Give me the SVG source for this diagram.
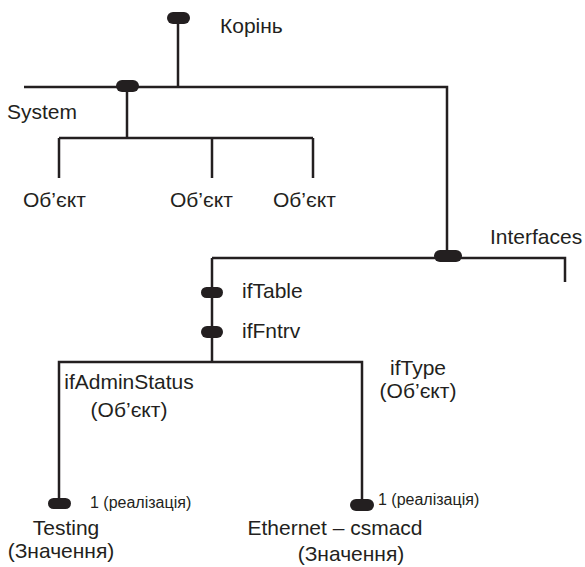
<svg xmlns="http://www.w3.org/2000/svg" width="585" height="567" viewBox="0 0 585 567">
<style>
.ln{fill:none;stroke:#231f20;stroke-width:2.5;stroke-linecap:butt;stroke-linejoin:miter}
.pill{fill:#231f20}
.t{font-family:"Liberation Sans",Arial,sans-serif;font-size:21px;fill:#231f20}
.s{font-family:"Liberation Sans",Arial,sans-serif;font-size:16px;fill:#231f20}
.m{text-anchor:middle}
</style>
<rect width="585" height="567" fill="#ffffff"/>
<g id="connectors">
<path class="ln" d="M178 24 V87"/>
<path class="ln" d="M24 87 H447 V258"/>
<path class="ln" d="M127 87 V138"/>
<path class="ln" d="M59 138 H313"/>
<path class="ln" d="M59 138 V178 M212 138 V178 M313 138 V178"/>
<path class="ln" d="M212 258 H565 V282"/>
<path class="ln" d="M212 258 V362"/>
<path class="ln" d="M59 502 V362 H362 V503"/>
</g>
<g id="root">
<rect class="pill" x="167" y="12" width="23" height="12" rx="6"/>
<text class="t" x="220" y="33">Корінь</text>
</g>
<g id="system">
<rect class="pill" x="116" y="80" width="23" height="12" rx="6"/>
<text class="t" x="7" y="119">System</text>
</g>
<g id="obj1"><text class="t" x="23" y="207">Об’єкт</text></g>
<g id="obj2"><text class="t" x="170" y="207">Об’єкт</text></g>
<g id="obj3"><text class="t" x="273" y="207">Об’єкт</text></g>
<g id="interfaces">
<rect class="pill" x="434" y="250" width="28" height="12" rx="6"/>
<text class="t" x="490" y="244">Interfaces</text>
</g>
<g id="iftable">
<rect class="pill" x="201" y="287" width="22" height="11" rx="5.5"/>
<text class="t" x="242" y="298">ifTable</text>
</g>
<g id="ifentry">
<rect class="pill" x="201" y="326" width="22" height="12" rx="6"/>
<text class="t" x="242" y="338">ifFntrv</text>
</g>
<g id="ifadminstatus">
<text class="t m" x="129" y="389">ifAdminStatus</text>
<text class="t m" x="129" y="417">(Об’єкт)</text>
</g>
<g id="iftype">
<text class="t m" x="418" y="375">ifType</text>
<text class="t m" x="418" y="398">(Об’єкт)</text>
</g>
<g id="testing">
<rect class="pill" x="48" y="498" width="23" height="11" rx="5.5"/>
<text class="s" x="90" y="508">1 (реалізація)</text>
<text class="t m" x="66" y="535">Testing</text>
<text class="t m" x="61" y="558">(Значення)</text>
</g>
<g id="ethernet">
<rect class="pill" x="350" y="499" width="24" height="12" rx="6"/>
<text class="s" x="378" y="505">1 (реалізація)</text>
<text class="t m" x="335" y="535">Ethernet – csmacd</text>
<text class="t m" x="351" y="561">(Значення)</text>
</g>
</svg>
